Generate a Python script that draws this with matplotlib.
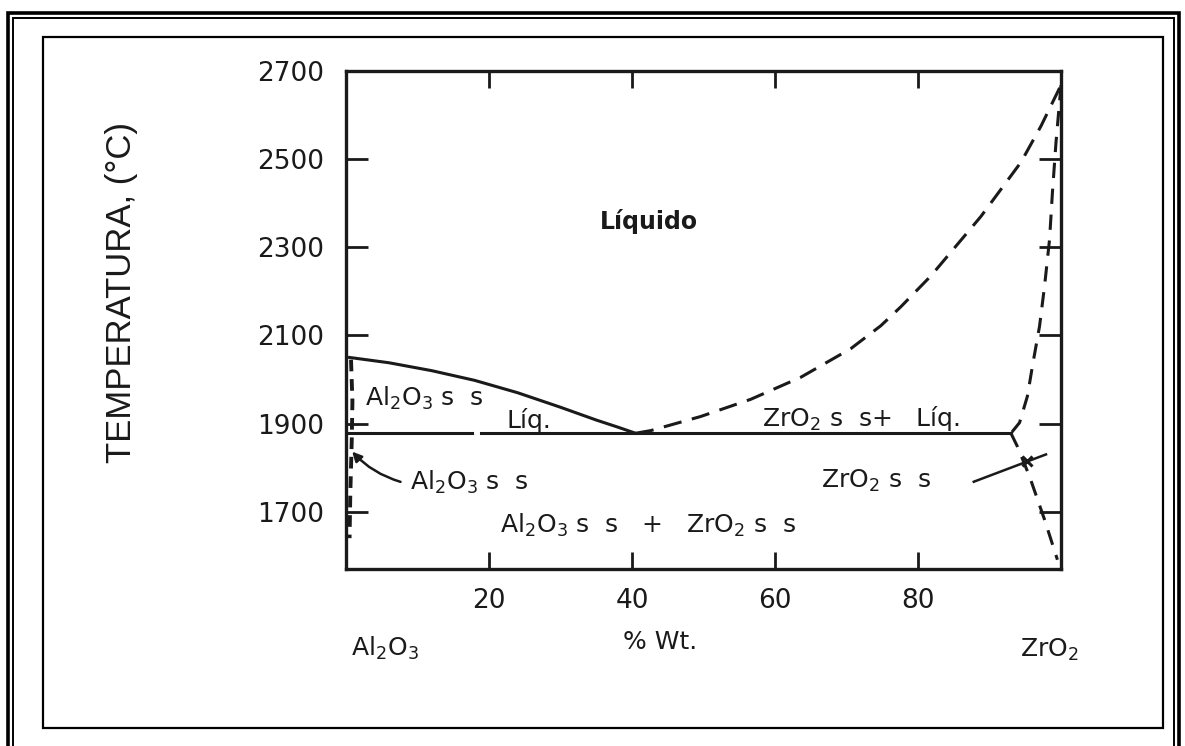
import matplotlib
matplotlib.use("Agg")
import matplotlib.pyplot as plt
from matplotlib import font_manager
from matplotlib.patches import Rectangle

# phase diagram Al2O3 - ZrO2
x_ticks = [20, 40, 60, 80]
y_ticks = [1700, 1900, 2100, 2300, 2500, 2700]
t_eutectic = 1878
eut_x_left = [0, 17.6]
eut_x_right = [18.9, 93.0]

liq_al_x = [0.5, 6, 12, 18, 24, 30, 35, 38, 40.5]
liq_al_t = [2050, 2038, 2020, 1998, 1970, 1937, 1908, 1892, 1878]

liq_zr_x = [40.5, 42.6, 49.6, 56.6, 63.6, 70.6, 74.8, 77.6, 81.8, 88.8, 94.4, 97.2, 100]
liq_zr_t = [1878, 1884, 1916, 1955, 2005, 2070, 2122, 2165, 2235, 2370, 2493, 2575, 2668]

sol_zr_x = [100, 99.3, 98.8, 98.4, 97.7, 97.0, 96.0, 95.3, 94.2, 93.0]
sol_zr_t = [2668, 2538, 2424, 2318, 2212, 2121, 2030, 1962, 1902, 1878]

solv_zr_x = [93.0, 93.9, 95.6, 97.7, 99.5]
solv_zr_t = [1878, 1848, 1780, 1682, 1591]

solv_al_x = [0.7, 0.9, 0.8, 0.6, 0.5]
solv_al_t = [2045, 1950, 1860, 1740, 1640]

names = {f.name for f in font_manager.fontManager.ttflist}
label_font = "Liberation Sans Narrow" if "Liberation Sans Narrow" in names else "Liberation Sans"

plt.rcParams["font.family"] = ["DejaVu Sans"]
plt.rcParams["mathtext.default"] = "regular"

fig = plt.figure(figsize=(11.85, 7.46), dpi=100)
ax = fig.add_axes([346 / 1185, 1 - 569 / 746, (1061 - 346) / 1185, (569 - 71) / 746])

ink = "#1a1a1a"
lw = 2.2
dash = (0, (6, 3.5))

ax.plot(liq_al_x, liq_al_t, color=ink, lw=lw)
ax.plot(eut_x_left, [t_eutectic] * 2, color=ink, lw=lw)
ax.plot(eut_x_right, [t_eutectic] * 2, color=ink, lw=lw)
ax.plot(liq_zr_x, liq_zr_t, color=ink, lw=lw, ls=dash)
ax.plot(sol_zr_x, sol_zr_t, color=ink, lw=lw, ls=(0, (5, 3.5)))
ax.plot(solv_zr_x, solv_zr_t, color=ink, lw=lw, ls=(0, (5, 3.5)))
ax.plot(solv_al_x, solv_al_t, color=ink, lw=lw + 0.6, ls=(0, (3, 2)))

# pointers
ax.annotate("", xy=(0.6, 1841), xytext=(8.0, 1766),
            arrowprops=dict(arrowstyle="-|>", color=ink, lw=1.8,
                            mutation_scale=14,
                            connectionstyle="arc3,rad=-0.15"))
ax.plot([87.8, 97.9], [1768, 1830], color=ink, lw=1.8)
ax.plot([95.3], [1814], marker="x", ms=7, mew=2.2, color=ink)

ax.set_xlim(0, 100)
ax.set_ylim(1570, 2700)
ax.set_xticks(x_ticks)
ax.set_yticks(y_ticks)
ax.tick_params(axis="both", direction="in", width=2, colors=ink,
               labelsize=19, top=True, right=True)
ax.tick_params(axis="y", length=16, pad=16)
ax.tick_params(axis="x", length=12, pad=14)
for s in ax.spines.values():
    s.set_linewidth(2.4)
    s.set_color(ink)

ax.set_ylabel("TEMPERATURA, (°C)", family=label_font, fontsize=25, color=ink)
ax.yaxis.set_label_coords(-0.291, 0.555)

# region labels
txt = dict(color=ink, fontsize=18)
ax.text(42.3, 2359, "Líquido", ha="center", va="center", fontweight="bold",
        color=ink, fontsize=17)
ax.text(2.6, 1958, r"Al$_2$O$_3$ s  s", ha="left", va="center", **txt)
ax.text(22.5, 1908, "Líq.", ha="left", va="center", **txt)
ax.text(58.2, 1912, r"ZrO$_2$ s  s+   Líq.", ha="left", va="center", **txt)
ax.text(9.0, 1766, r"Al$_2$O$_3$ s  s", ha="left", va="center", **txt)
ax.text(66.4, 1770, r"ZrO$_2$ s  s", ha="left", va="center", **txt)
ax.text(21.6, 1670, r"Al$_2$O$_3$ s  s   +   ZrO$_2$ s  s", ha="left", va="center", **txt)

# composition axis labels under the plot
fig.text(385 / 1185, 1 - 648 / 746, r"Al$_2$O$_3$", ha="center", va="center", color=ink, fontsize=18)
fig.text(660 / 1185, 1 - 642 / 746, "% Wt.", ha="center", va="center", color=ink, fontsize=18)
fig.text(1049 / 1185, 1 - 650 / 746, r"ZrO$_2$", ha="center", va="center", color=ink, fontsize=18)

# page frames (double border + scanned frame)
W, H = 1185, 746
def frame(x0, y0, x1, y1, lw_):
    fig.add_artist(Rectangle((x0 / W, 1 - y1 / H), (x1 - x0) / W, (y1 - y0) / H,
                             transform=fig.transFigure, fill=False,
                             ec="black", lw=lw_))

frame(8, 13, 1179, 760, 2.6)
frame(13, 18, 1174, 760, 1.4)
frame(43, 37, 1163, 728, 1.6)

fig.savefig("out.png", dpi=100)
